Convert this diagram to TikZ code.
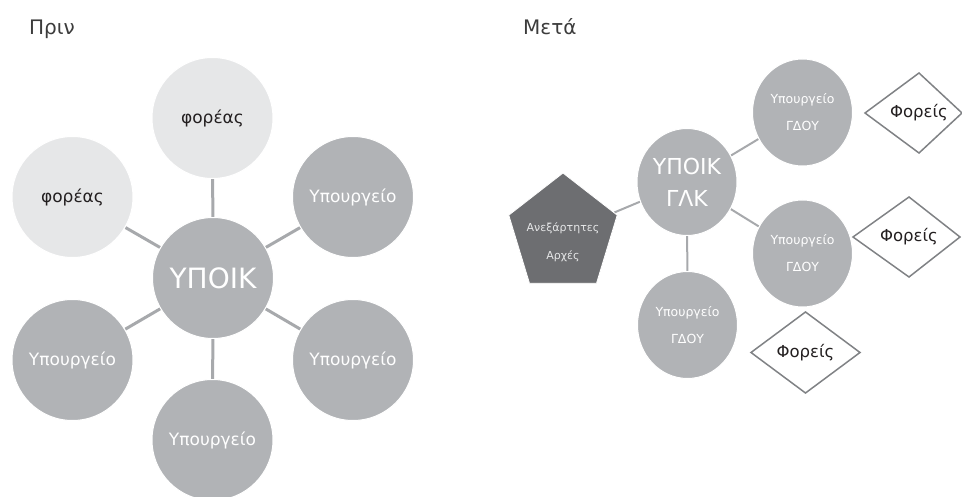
\documentclass[tikz,border=0pt]{standalone}
\usepackage{fontspec}
\setmainfont{DejaVu Sans}
\usetikzlibrary{shapes.geometric,calc,backgrounds}
\definecolor{lightc}{HTML}{E6E7E8}
\definecolor{midc}{HTML}{B1B3B6}
\definecolor{darkc}{HTML}{6D6E71}
\definecolor{connc}{HTML}{A7A9AC}
\definecolor{txtc}{HTML}{231F20}
\definecolor{diac}{HTML}{808285}
\definecolor{titlec}{HTML}{3C3C3C}
\begin{document}
\begin{tikzpicture}[x=1pt,y=-1pt,
  bigc/.style={circle, minimum size=121pt, inner sep=0pt, draw=white, line width=1pt},
  lightnode/.style={bigc, fill=lightc, text=txtc, font=\fontsize{17}{20}\selectfont},
  midnode/.style={bigc, fill=midc, text=white, font=\fontsize{17}{20}\selectfont},
  smallc/.style={ellipse, minimum width=100pt, minimum height=107pt, inner sep=0pt, draw=white, line width=1pt, fill=midc, text=white, align=center},
  connL/.style={draw=connc, line width=3pt},
  connR/.style={draw=connc, line width=2pt},
  fortext/.style={inner sep=0pt, text=txtc, font=\fontsize{16.5}{20}\selectfont},
  diaedge/.style={draw=diac, line width=1.5pt, fill=white, line join=miter},
  titletext/.style={anchor=base west, inner sep=0pt, text=titlec, font=\fontsize{20}{24}\selectfont}
]
\useasboundingbox (0,0) rectangle (962,497);
\clip (0,0) rectangle (962,497);

% titles
\node[titletext] (before) at (29,35) {Πριν};
\node[titletext] (after) at (523,35) {Μετά};

% ---------- left diagram ----------
\node[midnode, font=\fontsize{28}{32}\selectfont] (c) at (213,278) {ΥΠΟΙΚ};
\node[lightnode] (tf) at (212.5,118) {φορέας};
\node[lightnode] (lf) at (72.5,197) {φορέας};
\node[midnode] (rt) at (353,197) {Υπουργείο};
\node[midnode] (lb) at (72.5,360) {Υπουργείο};
\node[midnode] (rb) at (353,360) {Υπουργείο};
\node[midnode] (bm) at (212.5,440) {Υπουργείο};

\begin{scope}[on background layer]
  \draw[connL] (c) -- (tf);
  \draw[connL] (c) -- (lf);
  \draw[connL] (c) -- (rt);
  \draw[connL] (c) -- (lb);
  \draw[connL] (c) -- (rb);
  \draw[connL] (c) -- (bm);
\end{scope}

% ---------- right diagram ----------
\node[smallc, font=\fontsize{22}{32}\selectfont] (g) at (687,182) {ΥΠΟΙΚ\\ΓΛΚ};
\node[smallc, font=\fontsize{12.5}{27}\selectfont] (p1) at (802.5,112.5) {Υπουργείο\\ΓΔΟΥ};
\node[smallc, font=\fontsize{12.5}{27}\selectfont] (p2) at (802.5,253.5) {Υπουργείο\\ΓΔΟΥ};
\node[smallc, font=\fontsize{12.5}{27}\selectfont] (p3) at (687.5,325) {Υπουργείο\\ΓΔΟΥ};

\begin{scope}[shift={(563,234)}, yscale=1.07]
  \node[regular polygon, regular polygon sides=5, minimum size=114pt, inner sep=0pt,
        fill=darkc, draw=white, line width=0.8pt, transform shape] (pent) at (0,0) {};
\end{scope}
\node[align=center, text=lightc, font=\fontsize{11}{28}\selectfont, inner sep=0pt] (pentlabel) at (563,242.5) {Ανεξάρτητες\\Αρχές};

\begin{scope}[on background layer]
  \draw[connR] (g) -- (p1);
  \draw[connR] (g) -- (p2);
  \draw[connR] (g) -- (p3);
  \draw[connR] (g) -- (pent);
\end{scope}

% diamonds
\node[fortext] (d1) at (919,113) {Φορείς};
\node[fortext] (d2) at (909,237) {Φορείς};
\node[fortext] (d3) at (805.5,352.5) {Φορείς};
\begin{scope}[on background layer]
  \draw[diaedge] ($(d1)+(-54,0)$) -- ($(d1)+(0,-40)$) -- ($(d1)+(43,0)$) -- ($(d1)+(0,40)$) -- cycle;
  \draw[diaedge] ($(d2)+(-56,0)$) -- ($(d2)+(0,-40)$) -- ($(d2)+(51,0)$) -- ($(d2)+(0,40)$) -- cycle;
  \draw[diaedge] ($(d3)+(-54.5,0)$) -- ($(d3)+(0,-40.5)$) -- ($(d3)+(54.5,0)$) -- ($(d3)+(0,40.5)$) -- cycle;
\end{scope}
\end{tikzpicture}
\end{document}
